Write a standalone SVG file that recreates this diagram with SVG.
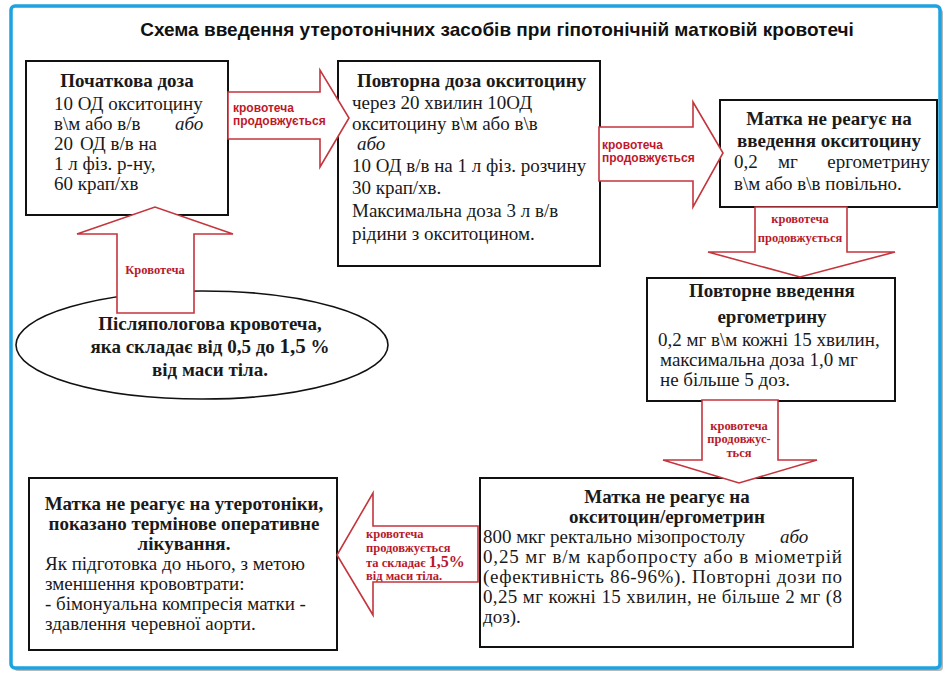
<svg xmlns="http://www.w3.org/2000/svg" width="950" height="678" viewBox="0 0 950 678">
<style>
.box{fill:#fff;stroke:#111;stroke-width:2}
.arr{fill:#fff;stroke:#c4353d;stroke-width:1.6;stroke-linejoin:miter}
.t{font-family:"Liberation Serif","Times New Roman",serif;font-size:19px;fill:#1a1a1a}
.b{font-family:"Liberation Serif","Times New Roman",serif;font-size:19px;font-weight:bold;fill:#1a1a1a}
.i{font-style:italic}
.ls{font-family:"Liberation Sans",Arial,sans-serif;font-size:12px;font-weight:bold;fill:#c0182a}
.lr{font-family:"Liberation Serif","Times New Roman",serif;font-size:12.5px;font-weight:bold;fill:#b81a2a}
</style>
<rect x="0" y="0" width="950" height="678" fill="#fff"/>
<rect x="14" y="9" width="929" height="662" rx="4" fill="#b8b8b8"/>
<rect x="11" y="6" width="929" height="662" rx="4" fill="#fff" stroke="#1ca3e0" stroke-width="3.5"/>
<text x="497" y="36" text-anchor="middle" font-family="Liberation Sans, Arial, sans-serif" font-size="19" font-weight="bold" fill="#111">Схема введення утеротонічних засобів при гіпотонічній матковій кровотечі</text>

<g id="box1">
<rect class="box" x="26" y="61" width="202" height="154"/>
<text class="b" x="127" y="87" text-anchor="middle">Початкова доза</text>
<text class="t" x="54" y="110">10 ОД окситоцину</text>
<text class="t" x="54" y="130">в\м або в/в</text>
<text class="t i" x="175" y="130">або</text>
<text class="t" x="54" y="150">20<tspan x="80">ОД в/в на</tspan></text>
<text class="t" x="54" y="170">1 л фіз. р-ну,</text>
<text class="t" x="54" y="190">60 крап/хв</text>
</g>

<g id="box2">
<rect class="box" x="338" y="61" width="262" height="205"/>
<text class="b" x="357" y="87">Повторна доза окситоцину</text>
<text class="t" x="352" y="109">через 20 хвилин 10ОД</text>
<text class="t" x="352" y="130">окситоцину в\м або в\в</text>
<text class="t i" x="357" y="150">або</text>
<text class="t" x="352" y="172" font-size="19.5">10 ОД в/в на 1 л фіз. розчину</text>
<text class="t" x="352" y="194">30 крап/хв.</text>
<text class="t" x="352" y="217">Максимальна доза 3 л в/в</text>
<text class="t" x="352" y="240">рідини з окситоцином.</text>
</g>

<g id="box3">
<rect class="box" x="720" y="100" width="217" height="107"/>
<text class="b" x="829" y="125" text-anchor="middle">Матка не реагує на</text>
<text class="b" x="829" y="147" text-anchor="middle">введення окситоцину</text>
<text class="t" x="734" y="168">0,2<tspan x="778">мг</tspan></text>
<text class="t" x="930" y="168" text-anchor="end">ергометрину</text>
<text class="t" x="734" y="190">в\м або в\в повільно.</text>
</g>

<g id="box4">
<rect class="box" x="647" y="278" width="248" height="123"/>
<text class="b" x="772" y="297" text-anchor="middle">Повторне введення</text>
<text class="b" x="772" y="323" text-anchor="middle">ергометрину</text>
<text class="t" x="658" y="346">0,2 мг в\м кожні 15 хвилин,</text>
<text class="t" x="660" y="366">максимальна доза 1,0 мг</text>
<text class="t" x="660" y="386">не більше 5 доз.</text>
</g>

<g id="box5">
<rect class="box" x="480" y="478" width="373" height="169"/>
<text class="b" x="667" y="503" text-anchor="middle">Матка не реагує на</text>
<text class="b" x="667" y="523" text-anchor="middle">окситоцин/ергометрин</text>
<text class="t" x="483" y="543">800 мкг ректально мізопростолу</text>
<text class="t i" x="780" y="543">або</text>
<text class="t" x="483" y="563" textLength="359" lengthAdjust="spacing">0,25 мг в/м карбопросту або в міометрій</text>
<text class="t" x="483" y="583" textLength="359" lengthAdjust="spacing">(ефективність 86-96%). Повторні дози по</text>
<text class="t" x="483" y="603" textLength="359" lengthAdjust="spacing">0,25 мг кожні 15 хвилин, не більше 2 мг (8</text>
<text class="t" x="483" y="623">доз).</text>
</g>

<g id="box6">
<rect class="box" x="29" y="478" width="308" height="172"/>
<text class="b" x="184" y="510" text-anchor="middle">Матка не реагує на утеротоніки,</text>
<text class="b" x="184" y="530" text-anchor="middle">показано термінове оперативне</text>
<text class="b" x="184" y="550" text-anchor="middle">лікування.</text>
<text class="t" x="45" y="570">Як підготовка до нього, з метою</text>
<text class="t" x="45" y="590">зменшення крововтрати:</text>
<text class="t" x="45" y="610">- бімонуальна компресія матки -</text>
<text class="t" x="45" y="630">здавлення черевної аорти.</text>
</g>

<g id="start">
<ellipse cx="202" cy="345" rx="186" ry="54" fill="#fff" stroke="#111" stroke-width="1.6"/>
<text class="b" x="210" y="330" text-anchor="middle" font-size="19.5">Післяпологова кровотеча,</text>
<text class="b" x="210" y="353" text-anchor="middle" font-size="19.5">яка складає від 0,5 до <tspan font-size="21">1,5</tspan> %</text>
<text class="b" x="210" y="376" text-anchor="middle" font-size="19.5">від маси тіла.</text>
</g>

<g id="connectors">
<polygon class="arr" points="117,313 117,234 77,234 155,207 233,234 194,234 194,313"/>
<text class="lr" x="155" y="274" text-anchor="middle" font-size="15.5">Кровотеча</text>

<polygon class="arr" points="228,92 320,92 320,70 349,118 320,167 320,139 228,139"/>
<text class="ls" x="233" y="112">кровотеча</text>
<text class="ls" x="233" y="125">продовжується</text>

<polygon class="arr" points="599,127 693,127 693,102 723,153 693,207 693,181 599,181"/>
<text class="ls" x="602" y="149">кровотеча</text>
<text class="ls" x="602" y="162">продовжується</text>

<polygon class="arr" points="755,207 755,252 708,252 800,277 895,252 847,252 847,207"/>
<text class="lr" x="800" y="223" text-anchor="middle">кровотеча</text>
<text class="lr" x="800" y="242" text-anchor="middle">продовжується</text>

<polygon class="arr" points="702,400 702,460 663,460 739,483 817,460 778,460 778,400"/>
<text class="lr" x="739" y="430" text-anchor="middle">кровотеча</text>
<text class="lr" x="739" y="443" text-anchor="middle">продовжус-</text>
<text class="lr" x="739" y="457" text-anchor="middle">ться</text>

<polygon class="arr" points="478,526 373,526 373,493 337,555 373,615 373,582 478,582"/>
<text class="lr" x="366" y="538" font-size="11.5">кровотеча</text>
<text class="lr" x="366" y="552" font-size="11.5">продовжується</text>
<text class="lr" x="366" y="567" font-size="11.5">та складає <tspan font-size="16">1,5%</tspan></text>
<text class="lr" x="366" y="580" font-size="11.5">від маси тіла.</text>
</g>
</svg>
